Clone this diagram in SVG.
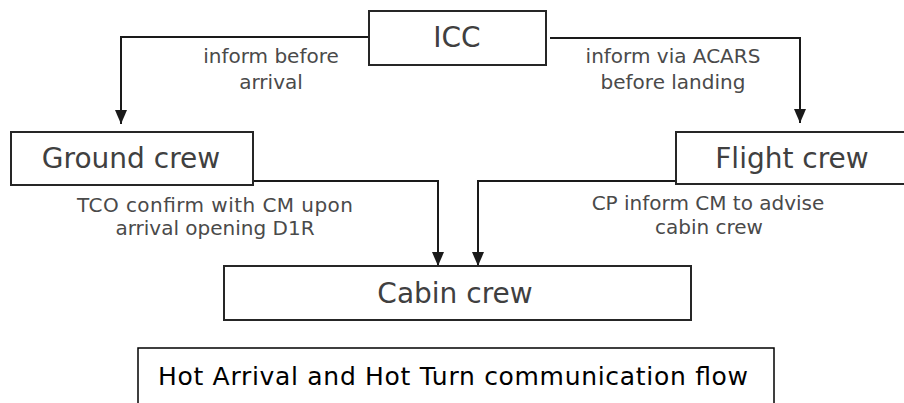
<svg xmlns="http://www.w3.org/2000/svg" width="904" height="403" viewBox="0 0 904 403">
<style>
  .box { fill: #ffffff; stroke: #262626; stroke-width: 2; }
  .node { font-family: "DejaVu Sans", "Liberation Sans", sans-serif; font-size: 28px; fill: #404040; text-anchor: middle; }
  .lbl { font-family: "DejaVu Sans", "Liberation Sans", sans-serif; font-size: 20px; fill: #4a4a4a; text-anchor: middle; }
  .title { font-family: "DejaVu Sans", "Liberation Sans", sans-serif; font-size: 25px; fill: #000000; }
  .conn { fill: none; stroke: #1a1a1a; stroke-width: 2; }
</style>
<defs>
  <marker id="arrow" markerUnits="userSpaceOnUse" markerWidth="12" markerHeight="14" refX="6" refY="14" orient="0" viewBox="0 0 12 14">
    <path d="M0,0 L12,0 L6,14 z" fill="#1a1a1a"/>
  </marker>
</defs>
<rect width="904" height="403" fill="#ffffff"/>
<g id="connectors">
  <path class="conn" d="M369,37 H121 V124" marker-end="url(#arrow)"/>
  <path class="conn" d="M550,38 H800 V123" marker-end="url(#arrow)"/>
  <path class="conn" d="M253,181 H438 V266" marker-end="url(#arrow)"/>
  <path class="conn" d="M676,181 H478 V266" marker-end="url(#arrow)"/>
  <text class="lbl" x="271" y="63">inform before</text>
  <text class="lbl" x="271" y="89">arrival</text>
  <text class="lbl" x="673" y="63">inform via ACARS</text>
  <text class="lbl" x="673" y="89">before landing</text>
  <text class="lbl" x="215" y="212" textLength="276">TCO confirm with CM upon</text>
  <text class="lbl" x="215" y="235">arrival opening D1R</text>
  <text class="lbl" x="708" y="210">CP inform CM to advise</text>
  <text class="lbl" x="709" y="234">cabin crew</text>
</g>
<g id="icc">
  <rect class="box" x="369" y="11" width="177" height="54"/>
  <text class="node" x="457" y="47">ICC</text>
</g>
<g id="ground-crew">
  <rect class="box" x="11" y="132" width="242" height="53"/>
  <text class="node" x="131" y="168">Ground crew</text>
</g>
<g id="flight-crew">
  <rect class="box" x="676" y="132" width="240" height="52"/>
  <text class="node" x="792" y="168">Flight crew</text>
</g>
<g id="cabin-crew">
  <rect class="box" x="224" y="266" width="467" height="54"/>
  <text class="node" x="455" y="303">Cabin crew</text>
</g>
<g id="title">
  <rect x="138" y="348" width="636" height="70" fill="#ffffff" stroke="#000000" stroke-width="1.5"/>
  <text class="title" x="158" y="385" textLength="590">Hot Arrival and Hot Turn communication flow</text>
</g>
</svg>
